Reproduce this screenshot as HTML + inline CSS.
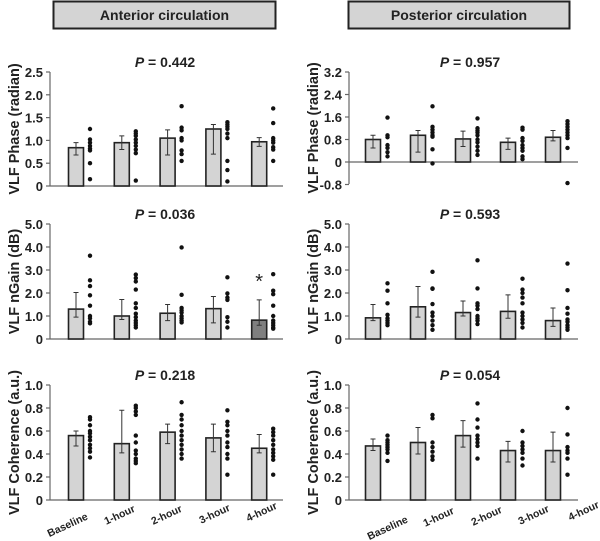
<!DOCTYPE html>
<html><head><meta charset="utf-8"><style>
body{margin:0;background:#fff;}
svg{display:block;font-family:"Liberation Sans",Arial,sans-serif;font-weight:bold;}
</style></head><body>
<svg id="chart" width="600" height="541" viewBox="0 0 600 541">
<g>
<rect x="53.5" y="1.5" width="222" height="27" fill="#d4d4d4" stroke="#222" stroke-width="2"/>
<text x="164.5" y="20" text-anchor="middle" font-size="14" fill="#222">Anterior circulation</text></g>
<g>
<rect x="348.5" y="1.5" width="221" height="27" fill="#d4d4d4" stroke="#222" stroke-width="2"/>
<text x="459" y="20" text-anchor="middle" font-size="14" fill="#222">Posterior circulation</text></g>
</svg>
<script>
const categories=["Baseline","1-hour","2-hour","3-hour","4-hour"];
// Anterior phase
const antPhaseMeans=[0.84,0.95,1.05,1.25,0.97];
const antPhaseLo=[0.68,0.8,0.68,0.7,0.87];
const antPhaseHi=[0.95,1.1,1.23,1.35,1.06];
const antPhaseDots=[[1.25,1.02,0.95,0.88,0.82,0.78,0.5,0.15],[1.2,1.15,1.1,1.02,0.95,0.88,0.8,0.72,0.12],[1.75,1.28,1.22,1.05,1.0,0.78,0.7,0.55],[1.4,1.35,1.3,1.25,1.15,1.05,0.55,0.35,0.1],[1.7,1.38,1.05,1.0,0.95,0.85,0.8,0.55]];
const antPhaseTicks=["0","0.5","1.0","1.5","2.0","2.5"];
// Anterior gain
const antGainMeans=[1.3,1.0,1.12,1.32,0.82];
const antGainLo=[0.95,0.85,0.8,0.7,0.6];
const antGainHi=[2.02,1.72,1.5,1.85,1.7];
const antGainDots=[[3.62,2.55,2.3,1.9,1.45,1.0,0.9,0.75,0.68],[2.8,2.65,2.5,2.15,1.55,1.35,1.1,0.95,0.8,0.7,0.6,0.5],[3.98,1.92,1.35,1.25,1.15,1.0,0.9,0.8,0.72],[2.68,1.98,1.8,1.7,0.95,0.75,0.5],[2.82,2.1,1.95,1.45,1.0,0.8,0.7,0.6,0.5,0.45]];
const gainTicks=["0","1.0","2.0","3.0","4.0","5.0"];
// Anterior coherence
const antCohMeans=[0.56,0.49,0.59,0.54,0.45];
const antCohLo=[0.47,0.41,0.49,0.42,0.41];
const antCohHi=[0.6,0.78,0.66,0.66,0.57];
const antCohDots=[[0.72,0.7,0.65,0.6,0.58,0.55,0.52,0.48,0.45,0.42,0.37],[0.82,0.8,0.77,0.74,0.56,0.5,0.43,0.4,0.36,0.34,0.32],[0.85,0.74,0.7,0.65,0.6,0.56,0.52,0.48,0.44,0.4,0.36],[0.78,0.68,0.65,0.6,0.56,0.5,0.46,0.4,0.36,0.22],[0.62,0.59,0.56,0.52,0.48,0.44,0.41,0.38,0.35,0.22]];
const cohTicks=["0","0.2","0.4","0.6","0.8","1.0"];
// Posterior phase
const postPhaseMeans=[0.8,0.95,0.82,0.7,0.88];
const postPhaseLo=[0.5,0.35,0.55,0.45,0.75];
const postPhaseHi=[0.95,1.12,1.1,0.85,1.12];
const postPhaseDots=[[1.58,0.95,0.88,0.6,0.5,0.35,0.2],[1.98,1.25,1.15,1.05,0.95,0.9,0.45,-0.05],[1.55,1.2,1.12,1.05,0.95,0.8,0.7,0.55,0.4,0.25],[1.22,1.15,0.85,0.75,0.6,0.5,0.4,0.2,0.1],[1.45,1.35,1.25,1.15,1.05,0.95,0.85,0.5,-0.75]];
const postPhaseTicks=["-0.8","0","0.8","1.6","2.4","3.2"];
// Posterior gain
const postGainMeans=[0.92,1.4,1.15,1.2,0.8];
const postGainLo=[0.8,0.95,1.0,0.9,0.55];
const postGainHi=[1.5,2.28,1.65,1.92,1.35];
const postGainDots=[[2.42,2.1,1.55,1.05,0.9,0.8,0.7,0.6],[2.92,2.2,2.18,1.52,1.15,1.0,0.8,0.6,0.4],[3.42,2.2,1.55,1.45,1.3,1.0,0.9,0.8,0.65],[2.62,2.15,2.0,1.8,1.55,1.15,1.0,0.85,0.7,0.5],[3.28,2.12,1.35,1.1,0.85,0.75,0.6,0.5,0.4]];
// Posterior coherence
const postCohMeans=[0.47,0.5,0.56,0.43,0.43];
const postCohLo=[0.43,0.4,0.46,0.33,0.33];
const postCohHi=[0.53,0.63,0.69,0.51,0.59];
const postCohDots=[[0.56,0.52,0.5,0.48,0.46,0.44,0.41,0.34],[0.74,0.71,0.5,0.46,0.42,0.38,0.35],[0.84,0.7,0.63,0.56,0.53,0.5,0.47,0.36],[0.6,0.5,0.47,0.44,0.41,0.36,0.3],[0.8,0.57,0.46,0.43,0.41,0.36,0.22]];
const pValues=["0.442","0.036","0.218","0.957","0.593","0.054"];

const NS="http://www.w3.org/2000/svg";
const svg=document.getElementById("chart");
function mk(tag,attrs,parent){const e=document.createElementNS(NS,tag);for(const k in attrs)e.setAttribute(k,attrs[k]);(parent||svg).appendChild(e);return e;}

function panel(o){
  const g=mk("g",{});
  
  
  const y=v=>o.y0-(v-o.vmin)/(o.vmax-o.vmin)*(o.y0-o.y1);
  const x=i=>o.bx0+i*o.step;
  // y axis
  const ax=mk("line",{x1:o.ax,x2:o.ax,y1:o.y1,y2:o.yb,stroke:"#666","stroke-width":1.2},g);
  
  
  o.ticks.forEach(t=>{
    const v=parseFloat(t);
    mk("line",{x1:o.ax-4,x2:o.ax,y1:y(v),y2:y(v),stroke:"#666","stroke-width":1.2},g);
    const tl=mk("text",{x:o.ax-7,y:y(v)+5,"text-anchor":"end","font-size":13,fill:"#222"},g);
    tl.textContent=t;
    
    
  });
  const xa=mk("line",{x1:o.ax,x2:o.xend,y1:y(0),y2:y(0),stroke:"#666","stroke-width":1.2},g);
  
  
  // title
  const yt=mk("text",{x:0,y:0,"text-anchor":"middle","font-size":14.5,fill:"#222",transform:`translate(${o.ax-31},${(o.y1+o.yb)/2}) rotate(-90)`},g);
  yt.textContent=o.ytitle;
  
  
  const pt=mk("text",{x:o.px,y:o.y1-5,"text-anchor":"middle","font-size":14,fill:"#222"},g);
  pt.innerHTML='<tspan font-style="italic">P</tspan> = '+o.p;
  
  
  o.means.forEach((m,i)=>{
    const cx=x(i);
    const b=mk("rect",{x:cx-7.5,y:y(m),width:15,height:y(0)-y(m),fill:(o.dark===i?"#7f7f7f":"#d4d4d4"),stroke:"#222","stroke-width":1.6},g);
    
    
    const e=mk("path",{d:`M${cx},${y(o.lo[i])}V${y(o.hi[i])}M${cx-2.5},${y(o.lo[i])}H${cx+2.5}M${cx-2.5},${y(o.hi[i])}H${cx+2.5}`,stroke:"#333","stroke-width":1,fill:"none"},g);
    
    
    o.dots[i].forEach(d=>{
      const c=mk("circle",{cx:cx+o.doff,cy:y(d),r:2.2,fill:"#111"},g);
      
      
    });
  });
  if(o.dark!==undefined){
    const s=mk("text",{x:x(o.dark),y:y(o.hi[o.dark])-12,"text-anchor":"middle","font-size":20,"font-weight":"normal",fill:"#222"},g);
    s.textContent="*";
    
    
  }
  if(o.xlab){
    categories.forEach((c,i)=>{
      const t=mk("text",{x:0,y:0,"text-anchor":"middle","font-size":10.5,fill:"#222",transform:`translate(${o.xlab[i][0]},${o.xlab[i][1]}) rotate(-25)`},g);
      t.textContent=c;
      
      
    });
  }
}
const L={ax:50,xend:283,bx0:76,step:45.8,doff:14,px:165};
const R={ax:349,xend:578,bx0:373,step:45,doff:14.5,px:470};
panel({...L,name:"anterior-phase-panel",y1:72,y0:186,yb:186,vmin:0,vmax:2.5,ticks:antPhaseTicks,ytitle:"VLF Phase (radian)",p:pValues[0],means:antPhaseMeans,lo:antPhaseLo,hi:antPhaseHi,dots:antPhaseDots});
panel({...L,name:"anterior-gain-panel",y1:224,y0:339,yb:339,vmin:0,vmax:5,ticks:gainTicks,ytitle:"VLF nGain (dB)",p:pValues[1],means:antGainMeans,lo:antGainLo,hi:antGainHi,dots:antGainDots,dark:4});
panel({...L,name:"anterior-coherence-panel",y1:385,y0:500,yb:500,vmin:0,vmax:1,ticks:cohTicks,ytitle:"VLF Coherence (a.u.)",p:pValues[2],means:antCohMeans,lo:antCohLo,hi:antCohHi,dots:antCohDots,xlab:[[69,528],[121,518],[168,518],[216,517],[263,515]]});
panel({...R,name:"posterior-phase-panel",y1:72,y0:162,yb:184,vmin:0,vmax:3.2,ticks:postPhaseTicks,ytitle:"VLF Phase (radian)",p:pValues[3],means:postPhaseMeans,lo:postPhaseLo,hi:postPhaseHi,dots:postPhaseDots});
panel({...R,name:"posterior-gain-panel",y1:224,y0:339,yb:339,vmin:0,vmax:5,ticks:gainTicks,ytitle:"VLF nGain (dB)",p:pValues[4],means:postGainMeans,lo:postGainLo,hi:postGainHi,dots:postGainDots});
panel({...R,name:"posterior-coherence-panel",y1:385,y0:500,yb:500,vmin:0,vmax:1,ticks:cohTicks,ytitle:"VLF Coherence (a.u.)",p:pValues[5],means:postCohMeans,lo:postCohLo,hi:postCohHi,dots:postCohDots,xlab:[[389,531],[440,520],[488,519],[535,518],[585,514]]});
</script>
</body></html>
